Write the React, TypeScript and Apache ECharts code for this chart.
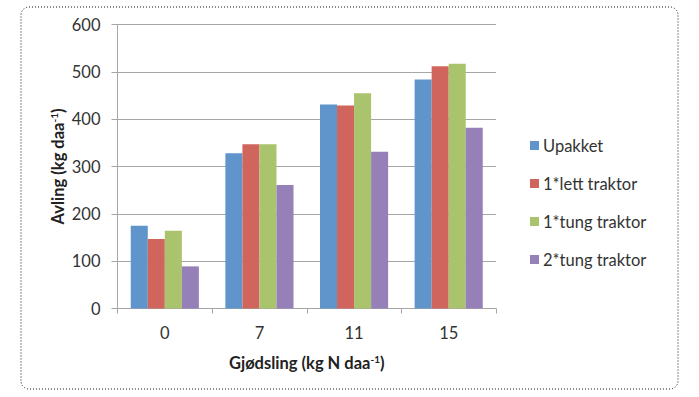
import React, { useEffect, useRef } from "react";
import * as echarts from "echarts";

const categories = ["0", "7", "11", "15"];
const seriesNames = ["Upakket", "1*lett traktor", "1*tung traktor", "2*tung traktor"];
const upakket = [175, 328, 431, 484];
const lettTraktor = [147, 347, 429, 512];
const tungTraktor = [164, 347, 455, 517];
const tungTraktor2 = [89, 261, 331, 382];
const yTicks = { min: 0, max: 600, interval: 100 };
const colors = ["#6095CB", "#CF655D", "#A9C46C", "#9580B8"];

const FONT = "Lato";
const FS = 16.5;

export default function App() {
  const ref = useRef<HTMLDivElement>(null);
  useEffect(() => {
    if (!ref.current) return;
    const chart = echarts.init(ref.current, undefined, { renderer: "svg" });
    const values = [upakket, lettTraktor, tungTraktor, tungTraktor2];
    const gray = "#A6A6A6";
    chart.setOption({
      animation: false,
      textStyle: { fontFamily: FONT },
      grid: { left: 117.5, right: 203, top: 24.5, bottom: 88.5, containLabel: false },
      legend: {
        orient: "vertical",
        left: 525,
        top: 132,
        padding: 5,
        icon: "rect",
        itemWidth: 9,
        itemHeight: 9,
        itemGap: 21,
        data: seriesNames,
        textStyle: { fontFamily: FONT, fontSize: FS, color: "#333", lineHeight: 16, padding: [0, 0, 0, -1] },
      },
      xAxis: {
        type: "category",
        data: categories,
        axisLine: { lineStyle: { color: gray } },
        axisTick: { show: true, length: 5, lineStyle: { color: gray } },
        axisLabel: { fontFamily: FONT, fontSize: FS, color: "#333", margin: 16 },
        name: "{b|Gjødsling (kg N daa}{s|-1}{b|)}",
        nameLocation: "middle",
        nameGap: 45,
        nameTextStyle: {
          rich: {
            b: { fontFamily: FONT, fontSize: FS, fontWeight: "bold", color: "#222", lineHeight: 18, verticalAlign: "bottom" },
            s: { fontFamily: FONT, fontSize: 10, fontWeight: "bold", color: "#222", lineHeight: 18, verticalAlign: "top", padding: [0, 0, 6, 0] },
          },
        },
      },
      yAxis: {
        type: "value",
        min: yTicks.min,
        max: yTicks.max,
        interval: yTicks.interval,
        axisLine: { show: true, lineStyle: { color: gray } },
        axisTick: { show: true, length: 6, lineStyle: { color: gray } },
        splitLine: { show: true, lineStyle: { color: gray } },
        axisLabel: { fontFamily: FONT, fontSize: FS, color: "#333", margin: 17 },
      },
      graphic: [
        {
          type: "rect",
          shape: { x: 21, y: 7, width: 657, height: 382, r: 8 },
          style: { fill: "none", stroke: "#111", lineWidth: 1, lineDash: [1, 2] },
          silent: true,
        },
        {
          type: "text",
          x: 57.5,
          y: 166.5,
          rotation: Math.PI / 2,
          style: {
            text: "{b|Avling (kg daa}{s|-1}{b|)}",
            align: "center",
            verticalAlign: "middle",
            rich: {
              b: { fontFamily: FONT, fontSize: FS, fontWeight: "bold", fill: "#222", lineHeight: 18, verticalAlign: "bottom" },
              s: { fontFamily: FONT, fontSize: 10, fontWeight: "bold", fill: "#222", lineHeight: 18, verticalAlign: "top", padding: [0, 0, 6, 0] },
            },
          },
        },
      ],
      series: seriesNames.map((name, i) => ({
        name,
        type: "bar",
        data: values[i],
        barGap: "0%",
        barCategoryGap: "28%",
        itemStyle: { color: colors[i] },
      })),
    });
    return () => chart.dispose();
  }, []);
  return <div ref={ref} style={{ width: 699, height: 397, position: "absolute", left: 0, top: 0 }} />;
}
